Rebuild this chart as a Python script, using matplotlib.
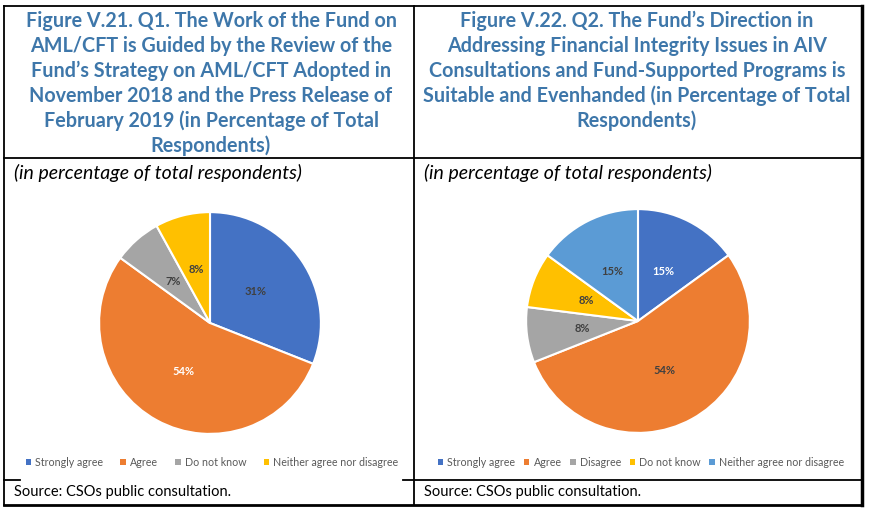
import matplotlib.pyplot as plt
from matplotlib.lines import Line2D
from matplotlib.patches import Patch

# data
labels_q1 = ['Strongly agree', 'Agree', 'Do not know', 'Neither agree nor disagree']
values_q1 = [31, 54, 7, 8]
colors_q1 = ['#4472C4', '#ED7D31', '#A5A5A5', '#FFC000']
pct_color_q1 = ['#404040', 'white', '#404040', '#404040']

labels_q2 = ['Strongly agree', 'Agree', 'Disagree', 'Do not know', 'Neither agree nor disagree']
values_q2 = [15, 54, 8, 8, 15]
colors_q2 = ['#4472C4', '#ED7D31', '#A5A5A5', '#FFC000', '#5B9BD5']
pct_color_q2 = ['white', '#404040', '#404040', '#404040', '#404040']

title_q1 = ['Figure V.21. Q1. The Work of the Fund on',
            'AML/CFT is Guided by the Review of the',
            'Fund\u2019s Strategy on AML/CFT Adopted in',
            'November 2018 and the Press Release of',
            'February 2019 (in Percentage of Total',
            'Respondents)']
title_q2 = ['Figure V.22. Q2. The Fund\u2019s Direction in',
            'Addressing Financial Integrity Issues in AIV',
            'Consultations and Fund-Supported Programs is',
            'Suitable and Evenhanded (in Percentage of Total',
            'Respondents)']
subtitle = '(in percentage of total respondents)'
source = 'Source: CSOs public consultation.'

W, H = 869, 511
fig = plt.figure(figsize=(W / 100, H / 100), dpi=100)


def fx(x):
    return x / W


def fy(y):
    return 1 - y / H


def hline(x0, x1, y, lw=1.3):
    fig.add_artist(Line2D([fx(x0), fx(x1)], [fy(y), fy(y)], color='black', lw=lw))


def vline(x, y0, y1, lw=1.3):
    fig.add_artist(Line2D([fx(x), fx(x)], [fy(y0), fy(y1)], color='black', lw=lw))


# table frame
hline(4, 862, 6)
hline(4, 862, 158)
hline(4, 20, 480)
hline(403, 862, 480)
hline(4, 862, 505, lw=2)
vline(4, 6, 505)
vline(414, 6, 505)
vline(862, 6, 505, lw=2.5)

title_color = '#3E77AA'
for i, line in enumerate(title_q1):
    fig.text(fx(211), fy(21 + 25 * i), line, ha='center', va='center',
             fontsize=14.2, fontweight='bold', color=title_color, family='Lato')
for i, line in enumerate(title_q2):
    fig.text(fx(637), fy(21 + 25 * i), line, ha='center', va='center',
             fontsize=14.2, fontweight='bold', color=title_color, family='Lato')

for x0 in [14, 424]:
    fig.text(fx(x0), fy(173), subtitle, ha='left', va='center', fontsize=14,
             style='italic', family='Lato', color='black')
    fig.text(fx(x0), fy(492), source, ha='left', va='center', fontsize=10.5,
             family='Lato', color='black')


def draw_pie(cx, cy, r, values, colors, pct_colors):
    ax = fig.add_axes([fx(cx - r), fy(cy + r), 2 * r / W, 2 * r / H])
    wedges, texts, autotexts = ax.pie(
        values, colors=colors, startangle=90, counterclock=False,
        autopct='%d%%', pctdistance=0.5, radius=1,
        wedgeprops=dict(edgecolor='white', linewidth=1.5))
    for t, c in zip(autotexts, pct_colors):
        t.set_color(c)
        t.set_fontsize(8)
        t.set_fontweight('bold')
        t.set_family('Lato')
    ax.set_xlim(-1.01, 1.01)
    ax.set_ylim(-1.01, 1.01)
    ax.axis('off')
    return ax


draw_pie(210, 323, 112, values_q1, colors_q1, pct_color_q1)
draw_pie(638, 321, 113, values_q2, colors_q2, pct_color_q2)


def draw_legend(cx, labels, colors, spacing):
    handles = [Patch(facecolor=c, edgecolor='none') for c in colors]
    leg = fig.legend(handles, labels, loc='center', bbox_to_anchor=(fx(cx), fy(462)),
                     ncol=len(labels), frameon=False,
                     handlelength=0.5, handleheight=0.5, handletextpad=0.4,
                     columnspacing=spacing, prop={'family': 'Lato', 'size': 7.7})
    for t in leg.get_texts():
        t.set_color('#595959')


draw_legend(212, labels_q1, colors_q1, 1.6)
draw_legend(641, labels_q2, colors_q2, 0.8)

fig.savefig('out.png', dpi=100, facecolor='white')
